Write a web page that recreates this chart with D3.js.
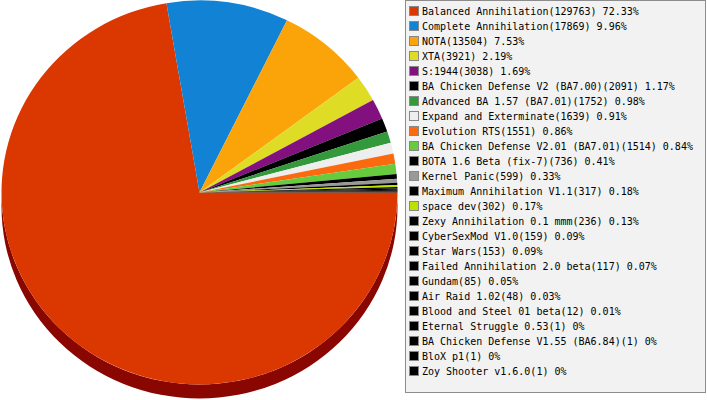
<!DOCTYPE html>
<html>
<head>
<meta charset="utf-8">
<script src="https://cdn.jsdelivr.net/npm/d3@7"></script>
<style>
  body { margin: 0; background: #fff; }
  svg { display: block; }
  .legend text { font-family: "DejaVu Sans Mono", monospace; font-size: 10px; fill: #000; }
</style>
</head>
<body>
<div id="chart"></div>
<script>
/* 3D-ish pie of games played */

const mods = [
  "Balanced Annihilation", "Complete Annihilation", "NOTA", "XTA", "S:1944",
  "BA Chicken Defense V2 (BA7.00)", "Advanced BA 1.57 (BA7.01)", "Expand and Exterminate",
  "Evolution RTS", "BA Chicken Defense V2.01 (BA7.01)", "BOTA 1.6 Beta (fix-7)",
  "Kernel Panic", "Maximum Annihilation V1.1", "space dev", "Zexy Annihilation 0.1 mmm",
  "CyberSexMod V1.0", "Star Wars", "Failed Annihilation 2.0 beta", "Gundam",
  "Air Raid 1.02", "Blood and Steel 01 beta", "Eternal Struggle 0.53",
  "BA Chicken Defense V1.55 (BA6.84)", "BloX p1", "Zoy Shooter v1.6.0"
];
const games = [
  129763, 17869, 13504, 3921, 3038,
  2091, 1752, 1639,
  1551, 1514, 736,
  599, 317, 302, 236,
  159, 153, 117, 85,
  48, 12, 1,
  1, 1, 1
];
const colors = [
  "#db3700", "#1283d4", "#faa40a", "#dedc24", "#82107e",
  "#000000", "#33993a", "#eeeeee",
  "#fc6a10", "#66cc3d", "#000000",
  "#999999", "#000000", "#bde200", "#000000",
  "#000000", "#000000", "#000000", "#000000",
  "#000000", "#000000", "#000000",
  "#000000", "#000000", "#000000"
];

let width = 707, height = 400;
let cx = 199.5, cy = 192.5, rx = 198, ry = 192, depth = 14;

const svg = d3.select("#chart")
  .append("svg")
  .attr("width", width)
  .attr("height", height);

const data = mods.map((m, i) => ({ name: m, value: games[i], color: colors[i] }));
const total = d3.sum(games);

// start at 3 o'clock, run clockwise
const pie = d3.pie()
  .sort(null)
  .value(d => d.value)
  .startAngle(Math.PI / 2)
  .endAngle(Math.PI / 2 + 2 * Math.PI);

const arcs = pie(data);

const pt = (a, dy = 0) => [cx + rx * Math.sin(a), cy - ry * Math.cos(a) + dy];

function topPath(d) {
  let p0 = pt(d.startAngle), p1 = pt(d.endAngle);
  let large = d.endAngle - d.startAngle > Math.PI ? 1 : 0;
  return `M${cx},${cy}L${p0}A${rx},${ry} 0 ${large} 1 ${p1}Z`;
}

function sidePath(d) {
  let s = Math.max(d.startAngle, Math.PI / 2),
      e = Math.min(d.endAngle, 3 * Math.PI / 2);
  if (s >= e) return null;
  let large = e - s > Math.PI ? 1 : 0;
  return `M${pt(s)}A${rx},${ry} 0 ${large} 1 ${pt(e)}` +
         `L${pt(e, depth)}A${rx},${ry} 0 ${large} 0 ${pt(s, depth)}Z`;
}

const shade = c => {
  let r = d3.rgb(c);
  return d3.rgb(r.r * 0.63, r.g * 0.1, r.b * 0.1).toString();
};

svg.append("g")
  .selectAll("path")
  .data(arcs.filter(d => sidePath(d)))
  .join("path")
  .attr("d", sidePath)
  .attr("fill", d => shade(d.data.color));

svg.append("g")
  .selectAll("path")
  .data(arcs)
  .join("path")
  .attr("d", topPath)
  .attr("fill", d => d.data.color);

// legend
let rowH = 15, firstRow = 11;

const y = d3.scaleLinear()
  .domain([0, mods.length - 1])
  .range([firstRow, firstRow + rowH * (mods.length - 1)]);

const legend = svg.append("g").attr("class", "legend");

legend.append("rect")
  .attr("x", 405.5)
  .attr("y", 0.5)
  .attr("width", 300)
  .attr("height", 392)
  .attr("fill", "#f2f2f2")
  .attr("stroke", "#8c8c8c");

const pct = v => +(v / total * 100).toFixed(2);

const rows = legend.selectAll("g.row")
  .data(data)
  .join("g")
  .attr("class", "row")
  .attr("transform", (d, i) => `translate(0,${y(i)})`);

rows.append("rect")
  .attr("x", 409.5)
  .attr("y", -4.5)
  .attr("width", 9)
  .attr("height", 9)
  .attr("fill", d => d.color)
  .attr("stroke", "#888");

rows.append("text")
  .attr("x", 422)
  .attr("y", 4)
  .text(d => `${d.name}(${d.value}) ${pct(d.value)}%`);
</script>
</body>
</html>
